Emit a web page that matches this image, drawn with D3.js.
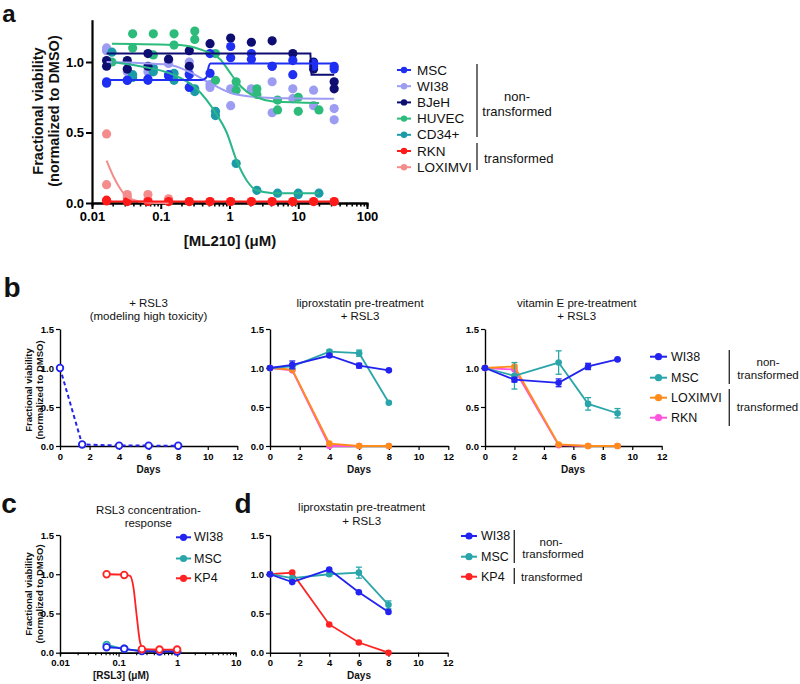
<!DOCTYPE html>
<html><head><meta charset="utf-8">
<script src="https://cdn.jsdelivr.net/npm/d3@7"></script>
<style>body{margin:0;background:#fff;}</style>
</head><body>
<svg id="fig" width="800" height="684"></svg>
<script>
// ---------------- DATA ----------------
// Panel a : ML210 concentration-response (2-fold dilutions)
const concA = [0.0163,0.0326,0.0651,0.130,0.260,0.521,1.04,2.08,4.17,8.33,16.7,33.3];
const concB = [0.0195,0.039,0.078,0.156,0.3125,0.625,1.25,2.5,5,10,20];
const mscVals   = [[0.85,0.86],[0.87,0.87],[0.87,0.88],[0.90,0.91],[0.91,0.82],[1.06,0.92],[1.11,1.03],[1.06,1.02],[0.97,0.97],[1.01,0.91],[0.99,0.97],[0.97,0.95]];
const wi38Vals  = [[1.10,1.08],[0.93,0.95],[0.93,0.96],[1.01,0.99],[1.00,0.92],[0.84,0.82],[0.81,0.69],[0.81,0.80],[0.86,0.64],[0.81,0.74],[0.80,0.69],[0.67,0.59]];
const bjehVals  = [[1.01,0.97],[1.01,0.95],[1.06,0.97],[1.02],[1.08,0.97],[1.13],[1.17],[1.14],[1.15],[1.06],[1.00,0.95],[0.86,0.81]];
const huvecVals = [[1.00],[1.20,1.10],[1.20,1.05],[1.20,1.12],[1.22,1.16],[1.06,0.87],[0.86,0.80],[0.81,0.77],[0.73,0.66],[0.75,0.65],[0.66]];
const cd34Vals  = [[1.07],[0.91,0.89],[0.96,0.93],[0.92,0.87],[0.81,0.79],[0.65,0.62],[0.28],[0.09],[0.07],[0.07,0.06],[0.07]];
const rknVals   = [[0.02,0.015],[0.01],[0.01],[0.01],[0.01],[0.01],[0.01],[0.01],[0.01],[0.01],[0.01],[0.01]];
const loxVals   = [[0.49,0.13],[0.06,0.04],[0.06,0.02],[0.03,0.01],[0.01],[0.01],[0.01],[0.01],[0.01],[0.01],[0.01],[0.01]];
// fitted curves: [conc, viability]
const mscFit   = [[0.0163,0.873],[0.40,0.873],[0.46,0.89],[0.50,0.97],[0.53,0.99],[33.3,0.99]];
const bjehFit  = [[0.0163,1.06],[15.0,1.06],[15.6,0.91],[33.3,0.91]];
const wi38Fit  = [[0.0163,1.00],[0.13,0.98],[0.26,0.93],[0.52,0.85],[1.04,0.78],[2.08,0.755],[4.17,0.745],[33.3,0.74]];
const huvecFit = [[0.0195,1.13],[0.19,1.12],[0.37,1.09],[0.73,1.02],[1.0,0.93],[1.27,0.86],[1.78,0.79],[2.5,0.75],[4.3,0.72],[20,0.71]];
const cd34Fit  = [[0.0195,1.00],[0.05,0.97],[0.152,0.91],[0.333,0.81],[0.625,0.64],[0.91,0.50],[1.27,0.30],[1.78,0.16],[2.49,0.09],[4.3,0.07],[20,0.07]];
const rknFit   = [[0.0163,0.01],[33.3,0.01]];
const loxFit   = [[0.0163,0.30],[0.0204,0.19],[0.0255,0.105],[0.032,0.045],[0.05,0.01],[0.08,0.0],[0.13,0.0]];
const legendA  = ["MSC","WI38","BJeH","HUVEC","CD34+","RKN","LOXIMVI"];

// Panel b : time courses (days, viability)
const toxRSL3  = [[0,1.0],[1.5,0.02],[4,0.005],[6,0.005],[8,0.003]];
const lipWI38  = [[0,1.0],[1.5,1.04],[4,1.16],[6,1.03],[8,0.97]];
const lipWI38Err = [0,0.05,0.02,0.03,0.01];
const lipMSC   = [[0,1.0],[1.5,1.02],[4,1.21],[6,1.19],[8,0.555]];
const lipMSCErr = [0,0.02,0.02,0.04,0.01];
const lipLOX   = [[0,1.0],[1.5,0.98],[4,0.03],[6,0.0],[8,0.0]];
const lipRKN   = [[0,1.0],[1.5,0.97],[4,0.0],[6,0.0],[8,0.0]];
const vitWI38  = [[0,1.0],[2,0.85],[5,0.81],[7,1.02],[9,1.11]];
const vitWI38Err = [0,0.03,0.05,0.04,0.01];
const vitMSC   = [[0,1.0],[2,0.90],[5,1.07],[7,0.54],[9,0.42]];
const vitMSCErr = [0,0.17,0.15,0.08,0.06];
const vitLOX   = [[0,1.0],[2,1.02],[5,0.02],[7,0.0],[9,0.0]];
const vitRKN   = [[0,1.0],[2,0.98],[5,0.01],[7,0.0],[9,0.0]];
const legendB  = ["WI38","MSC","LOXIMVI","RKN"];

// Panel c : RSL3 concentration-response
const rslConc  = [0.0625,0.125,0.25,0.5,1.0];
const rslWI38  = [0.07,0.05,0.02,0.015,0.015];
const rslMSC   = [0.10,0.05,0.03,0.025,0.02];
const rslKP4   = [1.0,0.99,0.045,0.04,0.04];
const kp4Fit   = [[0.0625,1.0],[0.125,0.995],[0.157,0.98],[0.179,0.84],[0.204,0.47],[0.232,0.14],[0.264,0.045],[0.5,0.04],[1.0,0.04]];
const legendC  = ["WI38","MSC","KP4"];

// Panel d : liproxstatin + RSL3
const dWI38 = [[0,1.0],[1.5,0.90],[4,1.06],[6,0.77],[8,0.52]];
const dMSC  = [[0,1.0],[1.5,0.95],[4,1.0],[6,1.02],[8,0.61]];
const dMSCErr = [0,0.01,0.02,0.07,0.05];
const dKP4  = [[0,1.0],[1.5,1.02],[4,0.36],[6,0.13],[8,0.0]];

const dayTicks = [0,2,4,6,8,10,12];
const viaTicks = [0,0.5,1.0,1.5];

// ---------------- STYLE ----------------
const FF = '"Liberation Sans", Arial, Helvetica, sans-serif';
const C = {
  msc:"#1f2ff2", wi38:"#9c9cf2", bjeh:"#0d0d72", huvec:"#2dbb7b", cd34:"#1b9aa8", cd34fit:"#2ab58c",
  rkn:"#ff1a1a", lox:"#f58c8c",
  bBlue:"#2323f0", bTeal:"#2aa6ab", bOrange:"#ff8c1a", bPink:"#ff55dd", bRed:"#ff2222"
};
const svg = d3.select("#fig");

function styleAxis(g, sw, fs, tw){
  g.attr("font-family", FF).attr("font-size", fs).attr("font-weight","bold");
  g.select(".domain").attr("stroke","#000").attr("stroke-width", sw);
  g.selectAll(".tick line").attr("stroke","#000").attr("stroke-width", tw||sw);
  g.selectAll(".tick text").attr("fill","#000");
}
function text(x,y,s,o){
  o=o||{};
  const t = svg.append("text").attr("x",x).attr("y",y).attr("font-family",FF)
    .attr("font-size",o.fs||12).attr("font-weight",o.bold?"bold":"normal")
    .attr("fill",o.fill||"#111").attr("text-anchor",o.anchor||"middle")
    .attr("dominant-baseline",o.base||"central").text(s);
  if(o.rot) t.attr("transform",`rotate(-90,${x},${y})`);
  return t;
}
function vline(x,y1,y2,col){
  svg.append("line").attr("x1",x).attr("x2",x).attr("y1",y1).attr("y2",y2)
    .attr("stroke",col||"#333").attr("stroke-width",1.4);
}

// ---------------- PANEL A ----------------
const xA = d3.scaleLog().domain([0.01,100]).range([92,367]);
const yA = d3.scaleLinear().domain([0,1.3]).range([203,19.7]);
const gA = svg.append("g");
const majA = [0.01,0.1,1,10,100];
gA.append("g").attr("transform","translate(0,203)")
  .call(d3.axisBottom(xA).tickValues(xA.ticks().filter(d=>!majA.includes(+d.toPrecision(3)))).tickSize(3.5).tickFormat(""))
  .call(g=>styleAxis(g,2.2,13,1.6));
gA.append("g").attr("transform","translate(0,203)")
  .call(d3.axisBottom(xA).tickValues(majA).tickSize(6).tickSizeOuter(0).tickFormat(d3.format("~g")))
  .call(g=>styleAxis(g,2.2,13,2));
gA.append("g").attr("transform","translate(92,0)")
  .call(d3.axisLeft(yA).tickValues([0,0.5,1.0]).tickSize(6).tickSizeOuter(0).tickPadding(2).tickFormat(d3.format(".1f")))
  .call(g=>styleAxis(g,2.2,13,2));
text(230,240,"[ML210] (\u03bcM)",{fs:15,bold:true});
text(38,111,"Fractional viability",{fs:14.5,bold:true,rot:true});
text(54,111,"(normalized to DMSO)",{fs:14.5,bold:true,rot:true});
text(9,22,"a",{fs:24,bold:true,base:"auto"});

const seriesA = [
  {conc:concA, vals:loxVals,   fit:loxFit,   col:C.lox,  fcol:C.lox,   curve:d3.curveMonotoneX},
  {conc:concA, vals:rknVals,   fit:rknFit,   col:C.rkn,  fcol:C.rkn,   curve:d3.curveLinear},
  {conc:concA, vals:wi38Vals,  fit:wi38Fit,  col:C.wi38, fcol:C.wi38,  curve:d3.curveMonotoneX},
  {conc:concB, vals:huvecVals, fit:huvecFit, col:C.huvec,fcol:C.huvec, curve:d3.curveMonotoneX},
  {conc:concB, vals:cd34Vals,  fit:cd34Fit,  col:C.cd34, fcol:C.cd34fit,curve:d3.curveMonotoneX},
  {conc:concA, vals:bjehVals,  fit:bjehFit,  col:C.bjeh, fcol:C.bjeh,  curve:d3.curveLinear},
  {conc:concA, vals:mscVals,   fit:mscFit,   col:C.msc,  fcol:C.msc,   curve:d3.curveMonotoneX}
];
seriesA.forEach(s=>{
  const pts = s.vals.flatMap((arr,i)=>arr.map(v=>[s.conc[i],v]));
  gA.append("g").selectAll("circle").data(pts).join("circle")
    .attr("cx",d=>xA(d[0])).attr("cy",d=>yA(d[1])).attr("r",4.6).attr("fill",s.col);
});
seriesA.forEach(s=>{
  gA.append("path").datum(s.fit)
    .attr("d",d3.line().x(d=>xA(d[0])).y(d=>yA(d[1])).curve(s.curve))
    .attr("fill","none").attr("stroke",s.fcol).attr("stroke-width",2);
});
// legend a
const legColA = [C.msc,C.wi38,C.bjeh,C.huvec,C.cd34,C.rkn,C.lox];
legendA.forEach((n,i)=>{
  const y = 70 + i*16.2;
  svg.append("line").attr("x1",397).attr("x2",411).attr("y1",y).attr("y2",y).attr("stroke",legColA[i]).attr("stroke-width",2);
  svg.append("circle").attr("cx",404).attr("cy",y).attr("r",3.2).attr("fill",legColA[i]);
  text(417,y,n,{fs:13.5,anchor:"start"});
});
vline(477,64,137); vline(477,143,170);
text(517,96,"non-",{fs:13}); text(517,111,"transformed",{fs:13});
text(484,158,"transformed",{fs:13,anchor:"start"});

// ---------------- time-course helper ----------------
function dayPanel(x0, x1, y0, y1){
  const x = d3.scaleLinear().domain([0,12]).range([x0,x1]);
  const y = d3.scaleLinear().domain([0,1.5]).range([y0,y1]);
  const g = svg.append("g");
  g.append("g").attr("transform",`translate(0,${y0})`)
    .call(d3.axisBottom(x).tickValues(dayTicks).tickSize(4).tickSizeOuter(0).tickFormat(d3.format("d")))
    .call(a=>styleAxis(a,1.4,9.5,1.2));
  g.append("g").attr("transform",`translate(${x0},0)`)
    .call(d3.axisLeft(y).tickValues(viaTicks).tickSize(4).tickSizeOuter(0).tickPadding(2).tickFormat(d3.format(".1f")))
    .call(a=>styleAxis(a,1.4,9.5,1.2));
  return {x,y,g};
}
function series(p, data, col, opt){
  opt=opt||{};
  const ln = d3.line().x(d=>p.x(d[0])).y(d=>p.y(d[1])).curve(opt.curve||d3.curveLinear);
  p.g.append("path").datum(data).attr("d",ln).attr("fill","none").attr("stroke",col)
    .attr("stroke-width",opt.sw||1.8).attr("stroke-dasharray",opt.dash||null);
  if(opt.err){
    data.forEach((d,i)=>{
      const e = opt.err[i]; if(!e) return;
      const cx = p.x(d[0]), ya = p.y(d[1]+e), yb = p.y(d[1]-e);
      p.g.append("line").attr("x1",cx).attr("x2",cx).attr("y1",ya).attr("y2",yb).attr("stroke",col).attr("stroke-width",1.3);
      [ya,yb].forEach(yy=>p.g.append("line").attr("x1",cx-3).attr("x2",cx+3).attr("y1",yy).attr("y2",yy).attr("stroke",col).attr("stroke-width",1.3));
    });
  }
  p.g.append("g").selectAll("circle").data(data).join("circle")
    .attr("cx",d=>p.x(d[0])).attr("cy",d=>p.y(d[1])).attr("r",opt.r||3.3)
    .attr("fill",opt.open?"#fff":col).attr("stroke",col).attr("stroke-width",opt.open?1.8:0);
}
function legend(items, cols, xl, xc, xt, ys, fs){
  items.forEach((n,i)=>{
    const y = ys[i];
    svg.append("line").attr("x1",xl[0]).attr("x2",xl[1]).attr("y1",y).attr("y2",y).attr("stroke",cols[i]).attr("stroke-width",2);
    svg.append("circle").attr("cx",xc).attr("cy",y).attr("r",3.6).attr("fill",cols[i]);
    text(xt,y,n,{fs:fs,anchor:"start"});
  });
}

// ---------------- PANEL B ----------------
text(12,287,"b",{fs:28,bold:true});
const b1 = dayPanel(60,237.3,446,329);
series(b1, toxRSL3, C.bBlue, {dash:"4,3", open:true, r:3.3, sw:2});
text(148.5,303,"+ RSL3",{fs:11.5});
text(148.5,316,"(modeling high toxicity)",{fs:11.5});
text(28,390,"Fractional viability",{fs:9.5,bold:true,rot:true});
text(39,390,"(normalized to DMSO)",{fs:9.5,bold:true,rot:true});
text(148.5,469,"Days",{fs:10,bold:true});

const b2 = dayPanel(270,448.3,446,329);
series(b2, lipRKN, C.bPink);
series(b2, lipLOX, C.bOrange);
series(b2, lipMSC, C.bTeal, {err:lipMSCErr});
series(b2, lipWI38, C.bBlue, {err:lipWI38Err});
text(360,303,"liproxstatin pre-treatment",{fs:11.5});
text(360,315.5,"+ RSL3",{fs:11.5});
text(359,469,"Days",{fs:10,bold:true});

const b3 = dayPanel(485,661.7,446,329);
series(b3, vitRKN, C.bPink);
series(b3, vitLOX, C.bOrange);
series(b3, vitMSC, C.bTeal, {err:vitMSCErr});
series(b3, vitWI38, C.bBlue, {err:vitWI38Err});
text(576.7,303,"vitamin E pre-treatment",{fs:11.5});
text(576.7,315.5,"+ RSL3",{fs:11.5});
text(573,469,"Days",{fs:10,bold:true});

legend(legendB,[C.bBlue,C.bTeal,C.bOrange,C.bPink],[650,667],658.5,671,[356.7,377.7,397.7,417.7],12.5);
vline(729.3,350,384); vline(729.3,389,426);
text(768,362,"non-",{fs:11.5}); text(768,374.5,"transformed",{fs:11.5});
text(767.5,407,"transformed",{fs:11.5});

// ---------------- PANEL C ----------------
text(9,503,"c",{fs:28,bold:true});
const xC = d3.scaleLog().domain([0.01,10]).range([60,235.7]);
const yC = d3.scaleLinear().domain([0,1.5]).range([652.7,535]);
const gC = svg.append("g");
const majC = [0.01,0.1,1,10];
gC.append("g").attr("transform","translate(0,652.7)")
  .call(d3.axisBottom(xC).tickValues(xC.ticks().filter(d=>!majC.includes(+d.toPrecision(3)))).tickSize(2.5).tickFormat(""))
  .call(a=>styleAxis(a,1.4,9.5,1.1));
gC.append("g").attr("transform","translate(0,652.7)")
  .call(d3.axisBottom(xC).tickValues(majC).tickSize(4).tickSizeOuter(0).tickFormat(d3.format("~g")))
  .call(a=>styleAxis(a,1.4,9.5,1.2));
gC.append("g").attr("transform","translate(60,0)")
  .call(d3.axisLeft(yC).tickValues(viaTicks).tickSize(4).tickSizeOuter(0).tickPadding(2).tickFormat(d3.format(".1f")))
  .call(a=>styleAxis(a,1.4,9.5,1.2));
const pC = {x:xC, y:yC, g:gC};
series(pC, rslConc.map((c,i)=>[c,rslMSC[i]]), C.bTeal, {open:true, curve:d3.curveMonotoneX});
series(pC, rslConc.map((c,i)=>[c,rslWI38[i]]), C.bBlue, {open:true, curve:d3.curveMonotoneX});
gC.append("path").datum(kp4Fit).attr("d",d3.line().x(d=>xC(d[0])).y(d=>yC(d[1])).curve(d3.curveMonotoneX))
  .attr("fill","none").attr("stroke",C.bRed).attr("stroke-width",1.8);
gC.append("g").selectAll("circle").data(rslConc.map((c,i)=>[c,rslKP4[i]])).join("circle")
  .attr("cx",d=>xC(d[0])).attr("cy",d=>yC(d[1])).attr("r",3.3).attr("fill","#fff").attr("stroke",C.bRed).attr("stroke-width",1.8);
text(148.3,510,"RSL3 concentration-",{fs:11.5});
text(148.3,522.7,"response",{fs:11.5});
text(28,594,"Fractional viability",{fs:9.5,bold:true,rot:true});
text(39,594,"(normalized to DMSO)",{fs:9.5,bold:true,rot:true});
text(121,675,"[RSL3] (\u03bcM)",{fs:10,bold:true});
legend(legendC,[C.bBlue,C.bTeal,C.bRed],[176,191],183.5,194,[537.3,558.5,578.3],12.5);

// ---------------- PANEL D ----------------
text(243,503,"d",{fs:28,bold:true});
const d1 = dayPanel(270,447.7,652.7,535);
series(d1, dKP4, C.bRed);
series(d1, dMSC, C.bTeal, {err:dMSCErr});
series(d1, dWI38, C.bBlue);
text(361.7,507.3,"liproxstatin pre-treatment",{fs:11.5});
text(361.7,520.7,"+ RSL3",{fs:11.5});
text(359,675,"Days",{fs:10,bold:true});
legend(legendC,[C.bBlue,C.bTeal,C.bRed],[461,477],469,481,[536,556.7,576.7],12.5);
vline(514.3,530,563); vline(514.3,568,584);
text(551,542,"non-",{fs:11.5}); text(553,554,"transformed",{fs:11.5});
text(521,576.7,"transformed",{fs:11.5,anchor:"start"});
</script>
</body></html>
